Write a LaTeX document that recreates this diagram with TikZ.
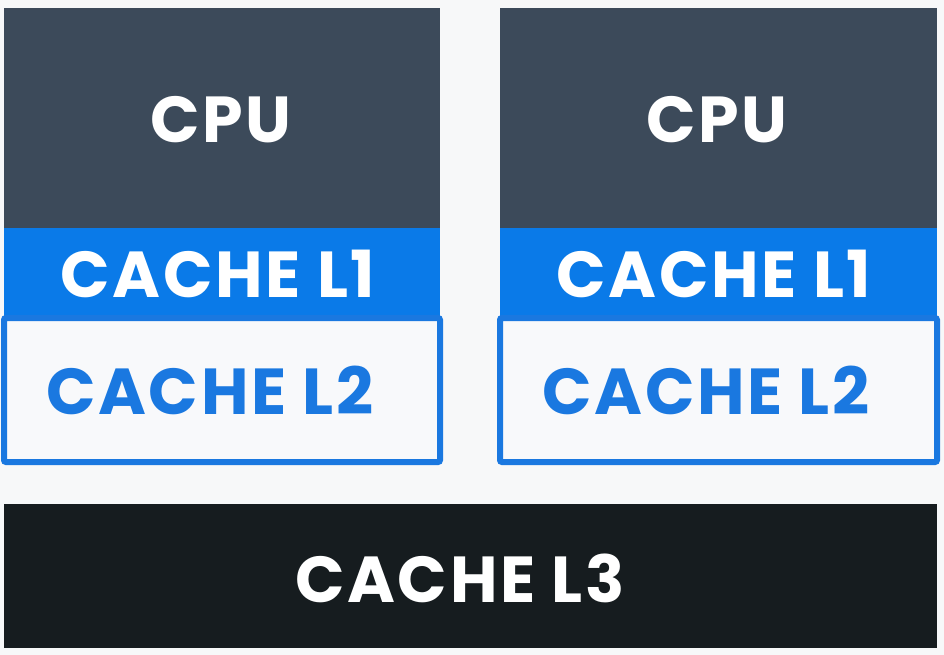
\documentclass[tikz,border=0pt]{standalone}
\usepackage{fontspec}
\setmainfont{Poppins}[LetterSpace=4]
\definecolor{bg}{HTML}{F7F8F9}
\definecolor{cpu}{HTML}{3C4A5A}
\definecolor{lone}{HTML}{0A7AE8}
\definecolor{ltwo}{HTML}{1A78E0}
\definecolor{lthree}{HTML}{161C1F}
\definecolor{ltwofill}{HTML}{F8F9FB}
\begin{document}
\begin{tikzpicture}[x=1pt,y=-1pt,
  lbl/.style={font=\fontsize{65}{65}\selectfont\bfseries, inner sep=0pt, anchor=center},
  cpubox/.style={fill=cpu, draw=none},
  l1box/.style={fill=lone, draw=none},
  l2box/.style={fill=ltwofill, draw=ltwo, line width=6pt, rounded corners=2pt},
  l3box/.style={fill=lthree, draw=none}]
\fill[bg] (0,0) rectangle (944,655);
\useasboundingbox (0,0) rectangle (944,655);
% left column
\fill[cpubox] (4,8) rectangle (440,230);
\fill[l1box] (4,228) rectangle (440,320);
\draw[l2box] (4,318) rectangle (440,462);
% right column
\fill[cpubox] (500,8) rectangle (937,230);
\fill[l1box] (500,228) rectangle (937,320);
\draw[l2box] (500,318) rectangle (937,462);
% L3
\fill[l3box] (4,504) rectangle (937,648);
% labels
\node[lbl, text=white] (cpuA) at (221,120) {CPU};
\node[lbl, text=white] (l1A) at (218,274) {CACHE L1};
\node[lbl, text=ltwo] (l2A) at (210,390) {CACHE L2};
\node[lbl, text=white] (cpuB) at (717,120) {CPU};
\node[lbl, text=white] (l1B) at (714,274) {CACHE L1};
\node[lbl, text=ltwo] (l2B) at (706,390) {CACHE L2};
\node[lbl, text=white] (l3) at (460,578) {CACHE L3};
\end{tikzpicture}
\end{document}
